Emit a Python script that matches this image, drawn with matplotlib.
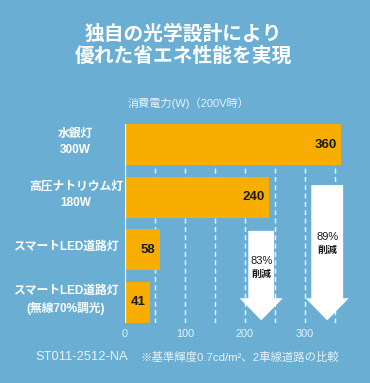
import numpy as np
import matplotlib
matplotlib.use("Agg")
import matplotlib.pyplot as plt
from matplotlib.patches import Polygon

# ---------------------------------------------------------------- data
categories = ["水銀灯\n300W", "高圧ナトリウム灯\n180W",
              "スマートLED道路灯", "スマートLED道路灯\n(無線70%調光)"]
watts = [360, 240, 58, 41]
xticks = [0, 100, 200, 300]
# reductions: (from bar index, to bar index)
reductions = [(1, 3), (0, 3)]

title = "独自の光学設計により\n優れた省エネ性能を実現"
subtitle = "消費電力(W)（200V時）"
footer_code = "ST011-2512-NA"
footer_note = "※基準輝度0.7cd/m²、2車線道路の比較"

# ---------------------------------------------------------------- style
BG = "#6aafd3"
BAR = "#f8ae00"
INK = "#1a1a1a"
PALE = "#e6f1f8"
plt.rcParams["font.family"] = ["Liberation Sans", "Noto Sans CJK JP", "DejaVu Sans"]

W, H = 370, 383
fig = plt.figure(figsize=(W / 100, H / 100), dpi=100, facecolor=BG)


def px(x, y):
    """pixel (from top-left) -> figure fraction"""
    return x / W, 1 - y / H


# axes: x=0 at 125px, 0.6 px per watt; bars from 124px to 323px
ax = fig.add_axes([125 / W, 1 - 323 / H, 240 / W, 199 / H])
ax.set_facecolor("none")
ax.set_xlim(0, 400)
ax.set_ylim(3.39, -0.39)
ypos = np.arange(len(watts))

for x in range(50, 400, 50):
    ax.axvline(x, color="white", lw=1.0, ls=(0, (3.5, 2.5)), alpha=0.9, zorder=1)
ax.barh(ypos, watts, height=0.78, color=BAR, zorder=2)
ax.axvline(0, color="white", lw=1.6, zorder=3)

for y, v in zip(ypos, watts):
    ax.text(v - 7, y, str(v), ha="right", va="center", fontsize=9.5,
            fontweight="bold", color=INK, zorder=4)

# reduction arrows (shape geometry is decoration; % comes from data)
arrow_geo = [  # center x, shaft half width, top y
    (227, 21.5, 1.64),
    (337, 26.5, 0.77),
]
head_half, head_base, tip = 36, 2.92, 3.34
text_y = [(2.22, 2.45), (1.76, 2.0)]
for (i0, i1), (cx, sw, top), (ty1, ty2) in zip(reductions, arrow_geo, text_y):
    pts = [(cx - sw, top), (cx + sw, top), (cx + sw, head_base),
           (cx + head_half, head_base), (cx, tip), (cx - head_half, head_base),
           (cx - sw, head_base)]
    ax.add_patch(Polygon(pts, closed=True, facecolor="white", edgecolor="none",
                         zorder=5, clip_on=False))
    pct = round((1 - watts[i1] / watts[i0]) * 100)
    ax.text(cx, ty1, f"{pct}%", ha="center", va="center", fontsize=8,
            color=INK, zorder=6)
    ax.text(cx, ty2, "削減", ha="center", va="center", fontsize=7.2,
            fontweight="bold", color=INK, zorder=6)

ax.set_xticks(xticks)
ax.set_xticklabels([str(t) for t in xticks])
ax.tick_params(axis="x", length=0, pad=4, labelsize=7.8, labelcolor=PALE)
ax.set_yticks([])
for s in ax.spines.values():
    s.set_visible(False)

# category labels
label_x = [75, 76, 66, 66]
for lx, y, lab in zip(label_x, ypos, categories):
    fx = lx / W
    fy = ax.transData.transform((0, y - 0.05))[1] / fig.bbox.height
    fig.text(fx, fy, lab, ha="center", va="center", fontsize=8.5,
             fontweight="bold", color="white", linespacing=1.45)

fig.text(*px(183, 45), title, ha="center", va="center", fontsize=14.2,
         fontweight="bold", color="white", linespacing=1.15)
fig.text(*px(188, 103), subtitle, ha="center", va="center", fontsize=8,
         color=PALE)
fig.text(*px(35, 357), footer_code, ha="left", va="center", fontsize=9.3,
         color=PALE)
fig.text(*px(140, 357), footer_note, ha="left", va="center", fontsize=8.2,
         color=PALE)

fig.savefig("out.png", dpi=100, facecolor=BG)
